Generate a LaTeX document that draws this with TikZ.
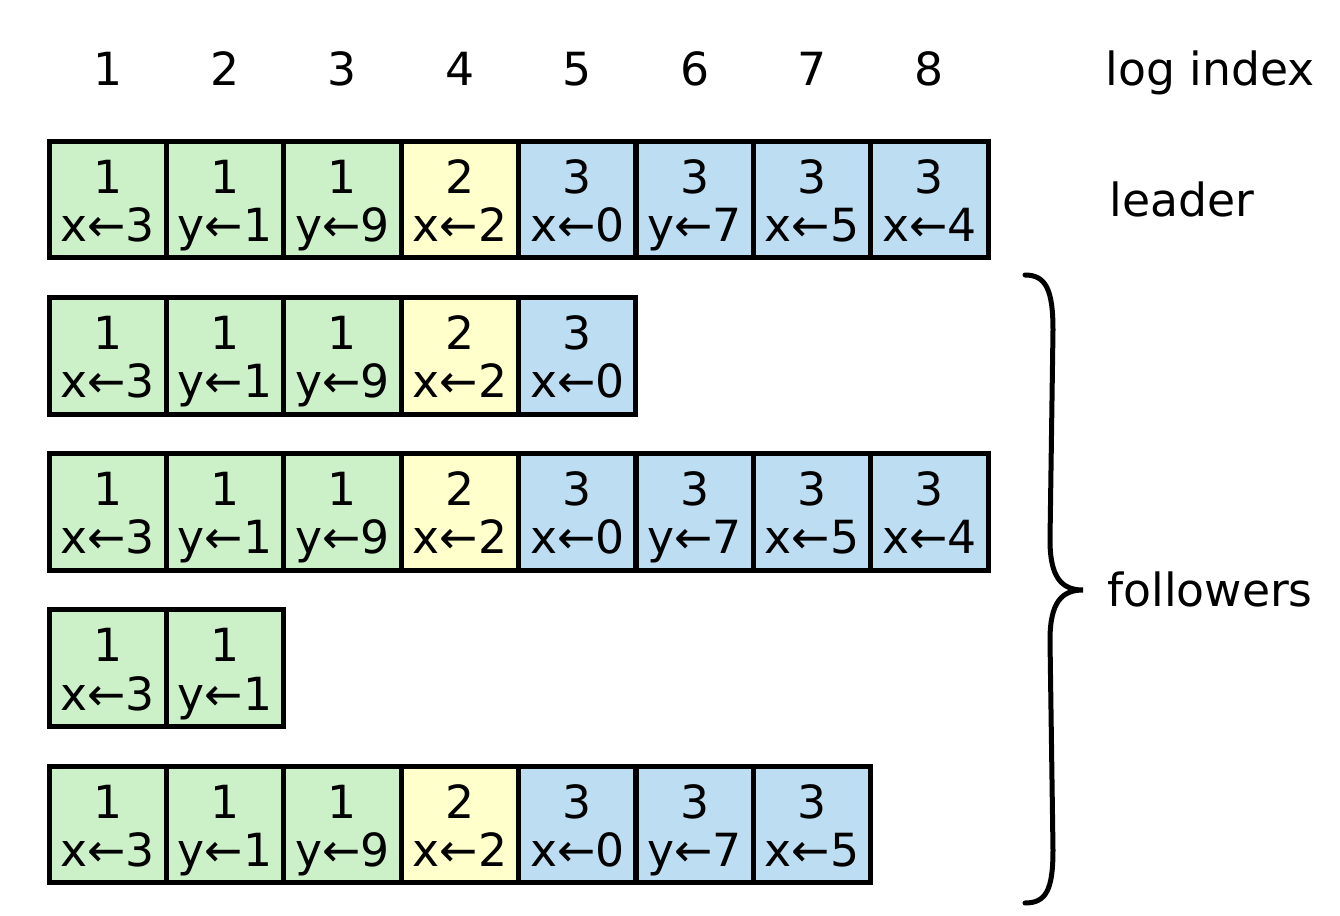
\documentclass[tikz,border=0pt]{standalone}
\usepackage{fontspec}
\setmainfont{DejaVu Sans}
\usepackage{xcolor}
\usetikzlibrary{positioning}

\definecolor{termcol1}{HTML}{CCF0C8}
\definecolor{termcol2}{HTML}{FFFFCC}
\definecolor{termcol3}{HTML}{BDDEF2}

\begin{document}
\begin{tikzpicture}[
  x=0.02cm,
  y=-0.02cm,
  cell/.style={
    draw=black,
    line width=0.1cm,
    minimum width=2.348cm,
    minimum height=2.34cm,
    inner sep=0pt
  },
  entry/.style={anchor=base, font=\fontsize{26}{30}\selectfont, inner sep=0pt},
  side/.style={anchor=base west, font=\fontsize{26}{30}\selectfont, inner sep=0pt},
  brace/.style={line width=0.1cm, line cap=round}
]
  \useasboundingbox (0,0) rectangle (1340,916);

  % log index numbers
  \foreach \col in {1,...,8} {
    \node[entry] (idx\col) at ({49+117.4*(\col-0.5)},85) {\col};
  }

  % leader and followers
  \foreach \row/\len in {1/8,2/5,3/8,4/2,5/7} {
    \foreach \col/\term/\cmd in {1/1/x←3,2/1/y←1,3/1/y←9,4/2/x←2,
                                 5/3/x←0,6/3/y←7,7/3/x←5,8/3/x←4} {
      \ifnum\col>\len\else
        \node[cell, fill=termcol\term] (c\row-\col)
          at ({49+117.4*(\col-0.5)},{199.5+156.25*(\row-1)}) {};
        \node[entry] (t\row-\col) at ([yshift=0.13cm]c\row-\col.center) {\term};
        \node[entry] (m\row-\col) at ([yshift=-0.84cm]c\row-\col.center) {\cmd};
      \fi
    }
  }

  % labels on the right
  \node[side] (logindex) at (1105,85) {log index};
  \node[side] (leader) at (1109,216) {leader};
  \node[side] (followers) at (1107,606) {followers};

  % brace over the followers
  \draw[brace] (1025,275) .. controls (1046,275) and (1053,290) .. (1053,330)
    -- (1050,540) .. controls (1050,578) and (1062,590) .. (1083,590)
    .. controls (1062,590) and (1050,602) .. (1050,640)
    -- (1053,850) .. controls (1053,890) and (1046,903) .. (1025,903);
\end{tikzpicture}
\end{document}
